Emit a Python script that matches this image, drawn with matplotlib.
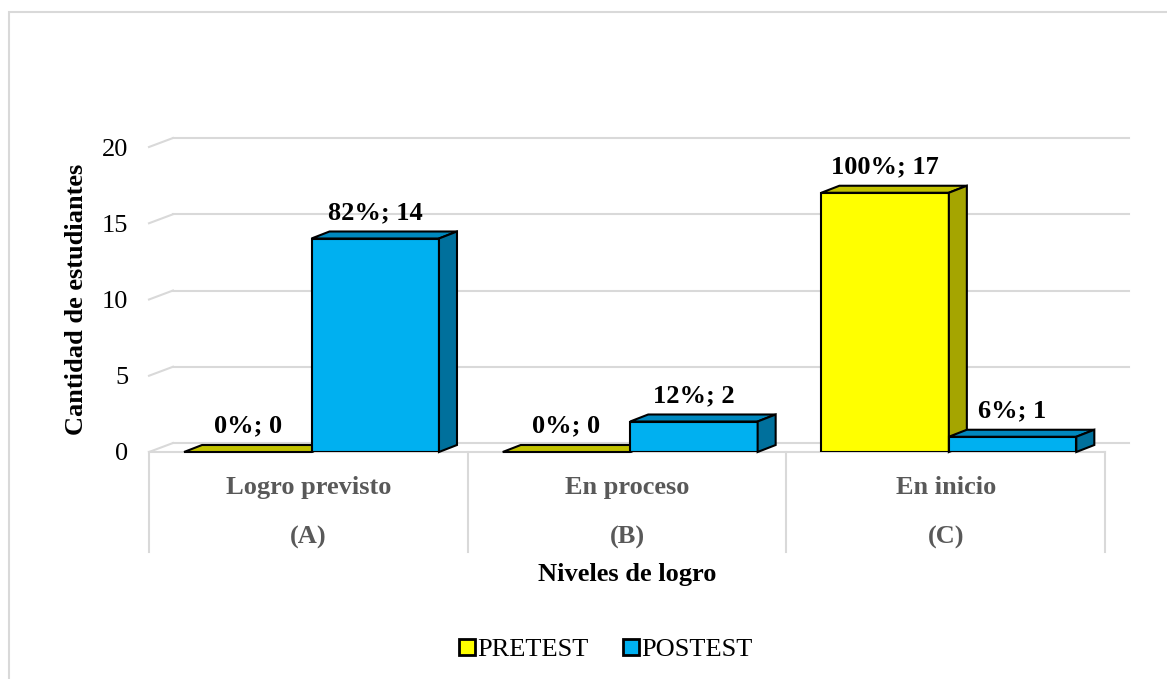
import numpy as np
import matplotlib.pyplot as plt
from matplotlib.patches import Polygon, Rectangle, Patch
from matplotlib import transforms

plt.rcParams['font.family'] = ['Liberation Serif', 'DejaVu Serif']

# datos
niveles = ['Logro previsto', 'En proceso', 'En inicio']
letras = ['(A)', '(B)', '(C)']
pretest = [0, 0, 17]
postest = [14, 2, 1]
pct_pre = ['0%', '0%', '100%']
pct_post = ['82%', '12%', '6%']

W, H = 1167, 679
fig = plt.figure(figsize=(W / 100, H / 100), dpi=100)
ax = fig.add_axes([149 / W, (H - 452) / H, (1105 - 149) / W, (452 - 147) / H])
ax.set_xlim(-0.5, 2.5)
ax.set_ylim(0, 20)
for s in ax.spines.values():
    s.set_visible(False)
ax.set_xticks([])
ax.set_yticks([0, 5, 10, 15, 20])
ax.tick_params(axis='y', length=0, pad=15, labelsize=19)

gris = '#D9D9D9'
# desplazamiento de profundidad (pixeles)
back = transforms.offset_copy(ax.transData, fig=fig, x=24, y=9, units='dots')

# rejilla en el plano del fondo + trazos diagonales
for yv in [0, 5, 10, 15, 20]:
    ax.plot([-0.5, 2.5], [yv, yv], color=gris, lw=1.5, transform=back, clip_on=False, zorder=1)
    p0 = ax.transData.transform((-0.5, yv))
    ax.plot([p0[0], p0[0] + 24], [p0[1], p0[1] + 9], color=gris, lw=1.5,
            transform=transforms.IdentityTransform(), clip_on=False, zorder=1)
ax.plot([-0.5, 2.5], [0, 0], color=gris, lw=1.5, clip_on=False, zorder=1)

# divisiones de categorias
xt = ax.get_xaxis_transform()
for xv in [-0.5, 0.5, 1.5, 2.5]:
    ax.plot([xv, xv], [0, -0.328], color=gris, lw=1.5, transform=xt, clip_on=False, zorder=1)

x = np.arange(len(niveles))
w = 0.40
dx, dy = 18, 7


def barra3d(xc, h, cf, ct, cs, z):
    ax.bar(xc, h, w, color=cf, edgecolor='black', lw=1.5, zorder=z)
    a = ax.transData.transform((xc - w / 2, h))
    b = ax.transData.transform((xc + w / 2, h))
    c = ax.transData.transform((xc + w / 2, 0))
    top = [a, b, b + [dx, dy], a + [dx, dy]]
    side = [b, c, c + [dx, dy], b + [dx, dy]]
    for pts, col in [(top, ct), (side, cs)]:
        ax.add_patch(Polygon(pts, closed=True, facecolor=col, edgecolor='black', lw=1.5,
                             transform=transforms.IdentityTransform(), clip_on=False, zorder=z))


for i in x:
    barra3d(i - 0.19, pretest[i], '#FFFF00', '#C2C200', '#A5A500', 3 + i * 2)
    barra3d(i + 0.21, postest[i], '#00B0F0', '#0088BE', '#00709C', 4 + i * 2)

for i in x:
    ax.annotate(f'{pct_pre[i]}; {pretest[i]}', (i - 0.19, pretest[i]), xytext=(0, 26),
                textcoords='offset pixels', ha='center', va='center', fontsize=19,
                fontweight='bold', annotation_clip=False, zorder=20)
    ax.annotate(f'{pct_post[i]}; {postest[i]}', (i + 0.21, postest[i]), xytext=(0, 26),
                textcoords='offset pixels', ha='center', va='center', fontsize=19,
                fontweight='bold', annotation_clip=False, zorder=20)
    ax.text(i, -0.115, niveles[i], transform=xt, ha='center', va='center', fontsize=19,
            fontweight='bold', color='#595959')
    ax.text(i, -0.279, letras[i], transform=xt, ha='center', va='center', fontsize=19,
            fontweight='bold', color='#595959')

ax.text(1, -0.40, 'Niveles de logro', transform=xt, ha='center', va='center',
        fontsize=19, fontweight='bold')
fig.text(77 / W, 1 - 299 / H, 'Cantidad de estudiantes', rotation=90, ha='center',
         va='center', fontsize=19, fontweight='bold')

handles = [Patch(facecolor='#FFFF00', edgecolor='black', lw=2, label='PRETEST'),
           Patch(facecolor='#00B0F0', edgecolor='black', lw=2, label='POSTEST')]
fig.legend(handles=handles, loc='center', bbox_to_anchor=(606 / W, 1 - 650 / H), ncol=2,
           frameon=False, fontsize=19, handlelength=0.6, handleheight=0.6,
           handletextpad=0.1, columnspacing=1.3)

borde = Rectangle((8.5 / W, -0.1), 1.5, 1.1 - 12.5 / H, fill=False, edgecolor=gris, lw=1.5,
                  transform=fig.transFigure)
fig.add_artist(borde)

fig.savefig('out.png', dpi=100)
